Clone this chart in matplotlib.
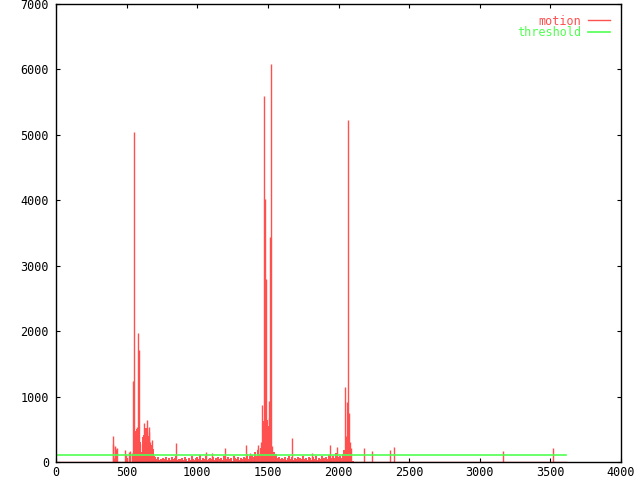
import numpy as np
import matplotlib
matplotlib.use('Agg')
import matplotlib.pyplot as plt

# motion values (frame -> motion)
spike_frames = [400, 405, 410, 415, 420, 425, 435, 488, 495, 505, 517, 527, 537,
                545, 552, 560, 567, 575, 580, 590, 595, 602, 610, 620, 625, 635,
                642, 650, 656, 660, 665, 670, 680, 690,
                850, 1060, 1104, 1196, 1345, 1373, 1427, 1432, 1450, 1458, 1465,
                1473, 1480, 1486, 1490, 1497, 1503, 1507, 1510, 1515, 1522, 1528,
                1535, 1668, 1815, 1940, 1991, 2046, 2052, 2060, 2067, 2074, 2082,
                2090, 2180, 2240, 2367, 2395, 3167, 3521]
spike_values = [400, 280, 60, 230, 240, 200, 210, 183, 100, 60, 150, 170, 140,
                1238, 5050, 420, 380, 530, 1971, 1711, 280, 100, 120, 600, 350, 200,
                640, 120, 540, 460, 300, 200, 340, 80,
                295, 157, 143, 219, 260, 137, 260, 210, 300, 870, 420,
                5594, 4020, 600, 2797, 450, 520, 937, 670, 3440, 6083, 250,
                160, 371, 132, 260, 235, 1146, 400, 917, 5227, 750, 300,
                214, 210, 170, 183, 234, 173, 219]

# dense filled parts under the two first bursts
burst1_frames = [556, 559, 562, 565, 568, 571, 574, 577, 583, 586, 593, 598, 605,
                 613, 617, 623, 628, 631, 638, 645, 648, 653, 658, 663, 668, 673,
                 677, 684, 687, 694, 698]
burst1_values = [350, 480, 300, 420, 260, 500, 380, 450, 520, 400, 300, 180, 150,
                 260, 380, 420, 300, 250, 520, 330, 210, 400, 350, 280, 230, 150,
                 260, 200, 120, 90, 70]
burst2_frames = [1462, 1468, 1476, 1483, 1493, 1500, 1505, 1512, 1518, 1525]
burst2_values = [350, 500, 620, 580, 640, 480, 550, 420, 600, 300]

noise_start = 700
noise_step = 10
noise_values = [60, 40, 70, 30, 50, 20, 60, 45, 80, 35,
                55, 25, 70, 40, 60, 90, 30, 50, 40, 65,
                30, 75, 45, 20, 60, 35, 85, 50, 25, 55,
                70, 40, 110, 30, 60, 45, 90, 35, 50, 65,
                40, 80, 30, 55, 25, 70, 45, 60, 35, 85,
                50, 30, 75, 45, 60, 20, 90, 55, 40, 70,
                35, 65, 45, 80, 55, 120, 40, 90, 60, 110,
                70, 150, 90, 180, 120, 210, 160, 250, 420, 380,
                450, 300, 600, 220, 160, 90, 120, 60, 80, 45,
                65, 40, 75, 30, 55, 85, 40, 70, 35, 60,
                45, 80, 30, 65, 50, 95, 40, 60, 25, 75,
                55, 35, 70, 45, 85, 30, 60, 50, 90, 40,
                65, 80, 45, 110, 70, 55, 90, 60, 130, 85,
                70, 95, 60, 120, 180, 150, 280, 200, 130, 90,
                20]

last_frame = 3608
threshold = 100

red = '#ff5050'
green = '#50ff50'
mono = 'DejaVu Sans Mono'

noise_frames = noise_start + noise_step * np.arange(len(noise_values))

fig = plt.figure(figsize=(6.4, 4.8), dpi=100)
ax = fig.add_axes([56 / 640, 18 / 480, 565 / 640, 458 / 480])

ax.vlines(noise_frames, 0, noise_values, color=red, lw=1.4)
ax.vlines(burst1_frames, 0, burst1_values, color=red, lw=1.4)
ax.vlines(burst2_frames, 0, burst2_values, color=red, lw=1.4)
ax.vlines(spike_frames, 0, spike_values, color=red, lw=1.0)
motion_line, = ax.plot([0, last_frame], [0, 0], color=red, lw=1.0, label='motion')
thr_line, = ax.plot([0, last_frame], [threshold, threshold], color=green, lw=1.2,
                    label='threshold')

ax.set_xlim(0, 4000)
ax.set_ylim(0, 7000)
ax.set_xticks(np.arange(0, 4001, 500))
ax.set_yticks(np.arange(0, 7001, 1000))
ax.tick_params(direction='in', length=3, width=0.8, top=True, right=True,
               labelsize=8.5)
ax.tick_params(axis='x', pad=3)
ax.tick_params(axis='y', pad=5)
for lab in ax.get_xticklabels() + ax.get_yticklabels():
    lab.set_family(mono)
for s in ax.spines.values():
    s.set_linewidth(1.0)

leg = ax.legend(handles=[motion_line, thr_line], loc='upper right',
                frameon=False, markerfirst=False, handlelength=1.9,
                handletextpad=0.6, labelspacing=-0.1, borderaxespad=0.5,
                prop={'family': mono, 'size': 8.5})
for t, c in zip(leg.get_texts(), [red, green]):
    t.set_color(c)

fig.savefig('out.png', dpi=100)
